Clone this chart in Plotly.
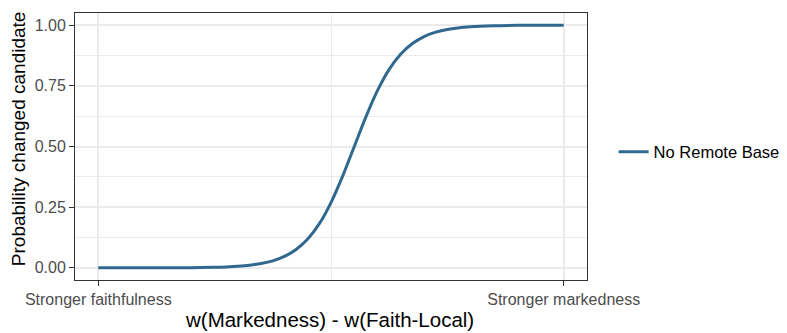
import plotly.graph_objects as go

# Weight difference w(Markedness) - w(Faith-Local) (arbitrary units, -10 .. 10)
weight_diff = [-10, -8, -6, -5, -4.5, -4, -3.5, -3, -2.5, -2, -1.5, -1, -0.5,
               0, 0.5, 1, 1.5, 2, 2.5, 3, 3.5, 4, 4.5, 5, 6, 7, 8, 10]
# Probability of the changed candidate
prob_changed = [0.0000, 0.0001, 0.0009, 0.0025, 0.004, 0.0067, 0.011, 0.018,
                0.029, 0.047, 0.076, 0.119, 0.182, 0.269, 0.378, 0.500,
                0.622, 0.731, 0.818, 0.881, 0.924, 0.953, 0.971, 0.982,
                0.993, 0.9975, 0.9991, 1.000]

series_name = "No Remote Base"
x_tick_vals = [-10, 10]
x_tick_text = ["Stronger faithfulness", "Stronger markedness"]
y_tick_vals = [0, 0.25, 0.5, 0.75, 1.0]
y_tick_text = ["0.00", "0.25", "0.50", "0.75", "1.00"]

FONT = "Liberation Sans, Arial, sans-serif"
GRID = "#EBEBEB"
INK = "#333333"
TICK_TXT = "#4D4D4D"

fig = go.Figure()
fig.add_trace(go.Scatter(
    x=weight_diff, y=prob_changed, mode="lines", name=series_name,
    line=dict(color="#31688E", width=3, shape="spline", smoothing=0.8),
    showlegend=True,
))

fig.update_layout(
    width=787, height=333,
    margin=dict(l=75, r=200, t=13, b=53, autoexpand=False),
    paper_bgcolor="white", plot_bgcolor="white",
    font=dict(family=FONT, color="black"),
    showlegend=True,
    legend=dict(
        x=1.052, y=0.479, xanchor="left", yanchor="middle",
        font=dict(size=16.5, color="black", family=FONT),
        bgcolor="rgba(0,0,0,0)", borderwidth=0,
    ),
    xaxis=dict(
        range=[-11, 11], tickmode="array", tickvals=x_tick_vals,
        ticktext=x_tick_text, ticks="outside", ticklen=5, tickwidth=1,
        tickcolor=INK, tickfont=dict(size=16, color=TICK_TXT, family=FONT),
        showgrid=True, gridcolor=GRID, gridwidth=1.6, zeroline=False,
        showline=True, linecolor=INK, linewidth=1, mirror=True,
        automargin=False,
        minor=dict(tickmode="array", tickvals=[0], showgrid=True,
                   gridcolor=GRID, gridwidth=0.9, ticks=""),
    ),
    yaxis=dict(
        range=[-0.05, 1.05], tickmode="array", tickvals=y_tick_vals,
        ticktext=y_tick_text, ticks="outside", ticklen=5, tickwidth=1,
        tickcolor=INK, tickfont=dict(size=16, color=TICK_TXT, family=FONT),
        showgrid=True, gridcolor=GRID, gridwidth=1.6, zeroline=False,
        showline=True, linecolor=INK, linewidth=1, mirror=True,
        automargin=False,
        minor=dict(tickmode="array", tickvals=[0.125, 0.375, 0.625, 0.875],
                   showgrid=True, gridcolor=GRID, gridwidth=0.9, ticks=""),
    ),
    annotations=[
        dict(text="Probability changed candidate", textangle=-90,
             xref="paper", yref="paper", x=-0.11, y=0.53,
             xanchor="center", yanchor="middle", showarrow=False,
             font=dict(size=19, color="black", family=FONT)),
        dict(text="w(Markedness) - w(Faith-Local)",
             xref="paper", yref="paper", x=0.498, y=-0.147,
             xanchor="center", yanchor="middle", showarrow=False,
             font=dict(size=20.5, color="black", family=FONT)),
    ],
)

fig.write_html("out.html")
